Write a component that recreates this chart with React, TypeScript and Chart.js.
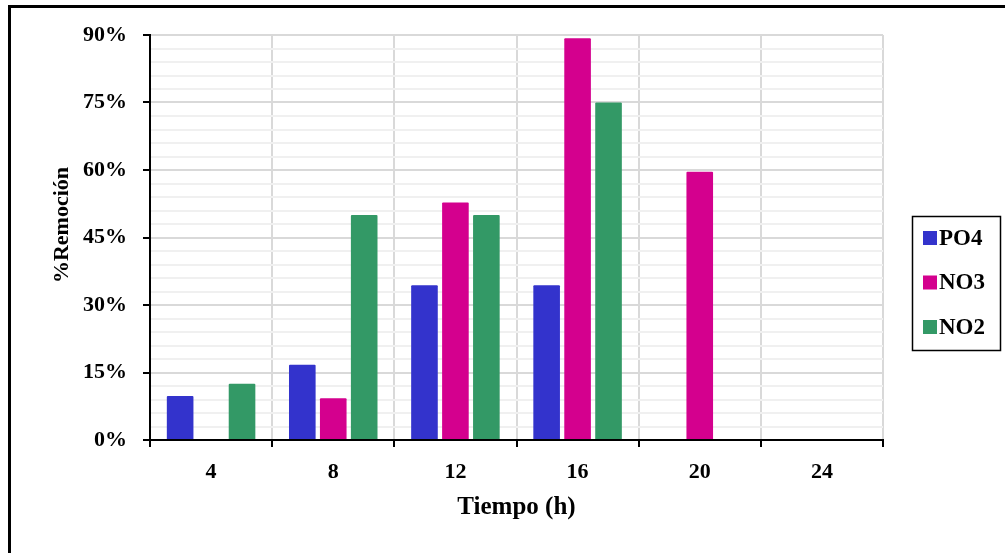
import React, { useEffect, useRef } from 'react';
import { Chart, registerables } from 'chart.js';

Chart.register(...registerables);

const categories = ['4', '8', '12', '16', '20', '24'];
const seriesNames = ['PO4', 'NO3', 'NO2'];
const po4Values = [9.8, 16.7, 34.4, 34.4, null, null];
const no3Values = [null, 9.3, 52.8, 89.3, 59.6, null];
const no2Values = [12.5, 50, 50, 75, null, null];
const seriesColors = ['#3333CC', '#D4008E', '#339966'];
const yMax = 90;
const yMajorStep = 15;
const yMinorStep = 3;
const xTitle = 'Tiempo (h)';
const yTitle = '%Remoción';

const FONT = '"Liberation Serif", "Times New Roman", serif';

const decorPlugin = {
  id: 'decor',
  beforeDraw(chart: any) {
    const ctx = chart.ctx;
    ctx.save();
    ctx.fillStyle = '#ffffff';
    ctx.fillRect(0, 0, chart.width, chart.height);
    ctx.restore();
  },
  afterDraw(chart: any) {
    const ctx = chart.ctx;
    ctx.save();
    // outer frame
    ctx.strokeStyle = '#000000';
    ctx.lineWidth = 3;
    ctx.strokeRect(9.5, 6.5, 1100, 600);
    // y axis title
    ctx.fillStyle = '#000000';
    ctx.font = `bold 22px ${FONT}`;
    ctx.textAlign = 'center';
    ctx.textBaseline = 'middle';
    ctx.save();
    ctx.translate(62, 225);
    ctx.rotate(-Math.PI / 2);
    ctx.fillText(yTitle, 0, 0);
    ctx.restore();
    // legend
    const boxLeft = 912;
    const boxTop = 216;
    ctx.lineWidth = 1.5;
    ctx.strokeRect(boxLeft + 0.5, boxTop + 0.5, 88, 134);
    ctx.font = `bold 23px ${FONT}`;
    ctx.textAlign = 'left';
    chart.data.datasets.forEach((ds: any, i: number) => {
      const cy = 238 + i * 44.5;
      ctx.fillStyle = ds.backgroundColor;
      ctx.fillRect(boxLeft + 11, cy - 7, 14, 14);
      ctx.fillStyle = '#000000';
      ctx.fillText(ds.label, boxLeft + 27, cy + 1);
    });
    ctx.restore();
  },
};

export default function App() {
  const canvasRef = useRef<HTMLCanvasElement | null>(null);

  useEffect(() => {
    document.body.style.margin = '0';
    const canvas = canvasRef.current;
    if (!canvas) return;
    const seriesValues = [po4Values, no3Values, no2Values];
    const chart = new Chart(canvas, {
      type: 'bar',
      data: {
        labels: categories,
        datasets: seriesNames.map((name, i) => ({
          label: name,
          data: seriesValues[i],
          backgroundColor: seriesColors[i],
          borderWidth: 0,
          borderRadius: 1,
          categoryPercentage: 0.76,
          barPercentage: 0.86,
        })),
      },
      options: {
        responsive: false,
        animation: false,
        devicePixelRatio: 1,
        layout: { padding: { left: 0, top: 35, right: 122, bottom: 0 } },
        plugins: {
          legend: { display: false },
          tooltip: { enabled: false },
        },
        scales: {
          x: {
            offset: true,
            grid: {
              offset: true,
              color: '#d9d9d9',
              lineWidth: 2,
              tickColor: '#000000',
              tickLength: 7,
              tickWidth: 2,
            },
            border: { display: true, color: '#000000', width: 2 },
            ticks: {
              color: '#000000',
              font: { family: FONT, size: 22, weight: 'bold' },
              padding: 12,
            },
            title: {
              display: true,
              text: xTitle,
              color: '#000000',
              font: { family: FONT, size: 25, weight: 'bold' },
              padding: { top: 0, bottom: 30 },
            },
            afterFit(scale: any) {
              scale.height = 113;
            },
          },
          y: {
            min: 0,
            max: yMax,
            grid: {
              color: (ctx: any) =>
                ctx.tick && Math.round(ctx.tick.value) % yMajorStep === 0 ? '#d9d9d9' : '#f0f0f0',
              lineWidth: 2,
              tickColor: (ctx: any) =>
                ctx.tick && Math.round(ctx.tick.value) % yMajorStep === 0 ? '#000000' : 'rgba(0,0,0,0)',
              tickLength: 7,
              tickWidth: 2,
            },
            border: { display: true, color: '#000000', width: 2 },
            ticks: {
              stepSize: yMinorStep,
              autoSkip: false,
              color: '#000000',
              font: { family: FONT, size: 22, weight: 'bold' },
              padding: 16,
              callback: (v: any) => (Math.round(Number(v)) % yMajorStep === 0 ? `${v}%` : ''),
            },
            afterFit(scale: any) {
              scale.width = 150;
            },
          },
        },
      },
      plugins: [decorPlugin],
    } as any);
    return () => chart.destroy();
  }, []);

  return (
    <div style={{ width: 1005, height: 553 }}>
      <canvas ref={canvasRef} width={1005} height={553} style={{ display: 'block' }} />
    </div>
  );
}
